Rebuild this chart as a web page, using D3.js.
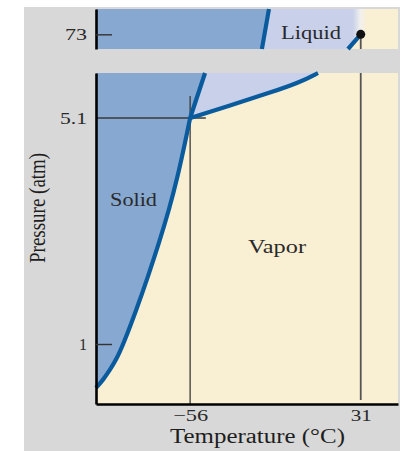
<!DOCTYPE html>
<html>
<head>
<meta charset="utf-8">
<script src="https://cdn.jsdelivr.net/npm/d3@7"></script>
<style>
  body { margin: 0; background: #fff; }
  svg { display: block; }
</style>
</head>
<body>
<figure id="phase" style="margin:0"></figure>
<script>
// CO2 phase diagram (broken pressure axis)
const tempTicks = [-56, 31];
const lowPressureTicks = [1, 5.1];
const highPressureTicks = [73];
const triplePoint = [-56, 5.1];
const criticalPoint = [31, 73];

// solid / vapor boundary (temperature, pressure)
const sublimationT = [-104, -100.4, -96.9, -93.8, -90.0, -83.4, -77.5, -71.9, -66.8, -62.4, -58.6, -56];
const sublimationP = [0.27, 0.40, 0.57, 0.73, 1.0, 1.62, 2.22, 2.83, 3.43, 4.03, 4.65, 5.1];
// solid / liquid boundary, lower and upper part of the break
const meltingLowT = [-56, -48.4];
const meltingLowP = [5.1, 5.92];
const meltingHighT = [-19.4, -15.8];
const meltingHighP = [62, 92];
// liquid / vapor boundary
const vaporLowT = [-56, -35.7, -15.3, 0, 9.2];
const vaporLowP = [5.1, 5.33, 5.56, 5.75, 5.92];
const vaporHighT = [24.5, 31];
const vaporHighP = [62, 73];

const labels = { solid: "Solid", liquid: "Liquid", vapor: "Vapor" };

const W = 405, H = 451;
const left = 96, right = 398;
const low = { top: 73, bottom: 404 };
const high = { top: 9, bottom: 49 };

const colors = {
  bg: "#d8d8d8", solid: "#87a8d0", liquid: "#c9d1ea", vapor: "#f9efd3",
  curve: "#0a5b9e", text: "#2a2a2a"
};
const serif = "'Liberation Serif', 'DejaVu Serif', serif";

const x = d3.scaleLinear().domain([-104, 50]).range([left, right]);
const yLow = d3.scaleLinear().domain([0, 1, 5.1, 5.92]).range([low.bottom, 344, 118, low.top]);
const yHigh = d3.scaleLinear().domain([62, 92]).range([high.bottom, high.top]);

const pts = (T, P) => T.map((t, i) => [t, P[i]]);
const sublimation = pts(sublimationT, sublimationP);
const meltingLow = pts(meltingLowT, meltingLowP);
const meltingHigh = pts(meltingHighT, meltingHighP);
const vaporLow = pts(vaporLowT, vaporLowP);
const vaporHigh = pts(vaporHighT, vaporHighP);

const svg = d3.select('#phase').append('svg').attr('width', W).attr('height', H);

svg.append('rect').attr('x', 24).attr('y', 7).attr('width', 376).attr('height', H - 7)
  .attr('fill', colors.bg);

const grad = svg.append('defs').append('linearGradient').attr('id', 'fade')
  .attr('gradientUnits', 'userSpaceOnUse')
  .attr('x1', x(27)).attr('x2', x(34)).attr('y1', 0).attr('y2', 0);
grad.append('stop').attr('offset', 0).attr('stop-color', colors.liquid);
grad.append('stop').attr('offset', 0.55).attr('stop-color', '#f1f0ee');
grad.append('stop').attr('offset', 1).attr('stop-color', colors.vapor);

// panel backgrounds (vapor)
svg.append('rect').attr('x', left).attr('y', low.top).attr('width', right - left)
  .attr('height', low.bottom - low.top).attr('fill', colors.vapor);
svg.append('rect').attr('x', left).attr('y', high.top).attr('width', right - left)
  .attr('height', high.bottom - high.top).attr('fill', colors.vapor);

const lineLow = d3.line().x(d => x(d[0])).y(d => yLow(d[1]));
const lineHigh = d3.line().x(d => x(d[0])).y(d => yHigh(d[1]));
const smoothLow = d3.line().x(d => x(d[0])).y(d => yLow(d[1])).curve(d3.curveBasis);

const meltTop = x(meltingLow[1][0]);

// solid region, lower panel
svg.append('path')
  .attr('d', smoothLow(sublimation) + `L${meltTop},${low.top}L${left},${low.top}L${left},${yLow(sublimation[0][1])}Z`)
  .attr('fill', colors.solid);

// liquid region, lower panel
svg.append('path')
  .attr('d', smoothLow(vaporLow) + `L${meltTop},${low.top}L${x(triplePoint[0])},${yLow(triplePoint[1])}Z`)
  .attr('fill', colors.liquid);

// upper panel regions
svg.append('path')
  .attr('d', `M${left},${high.top}L${x(meltingHigh[1][0])},${high.top}L${x(meltingHigh[0][0])},${high.bottom}L${left},${high.bottom}Z`)
  .attr('fill', colors.solid);
svg.append('path')
  .attr('d', `M${x(meltingHigh[0][0])},${high.bottom}L${x(meltingHigh[1][0])},${high.top}L${x(34)},${high.top}` +
    `L${x(34)},${yHigh(criticalPoint[1])}L${x(criticalPoint[0])},${yHigh(criticalPoint[1])}` +
    `L${x(vaporHigh[0][0])},${high.bottom}Z`)
  .attr('fill', 'url(#fade)');

// guide lines
const guide = svg.append('g').attr('stroke', '#3a3a3a').attr('stroke-width', 1.3);
guide.append('line').attr('x1', left).attr('x2', x(-48)).attr('y1', yLow(5.1)).attr('y2', yLow(5.1));
guide.append('line').attr('x1', x(-56)).attr('x2', x(-56)).attr('y1', yLow(5.5)).attr('y2', low.bottom);
guide.append('line').attr('stroke', '#555').attr('stroke-width', 1.8)
  .attr('x1', x(31)).attr('x2', x(31)).attr('y1', low.top).attr('y2', low.bottom - 4);
guide.append('line').attr('stroke', '#555').attr('stroke-width', 1.8)
  .attr('x1', x(31)).attr('x2', x(31)).attr('y1', yHigh(73)).attr('y2', high.bottom);

// phase boundaries
const curves = svg.append('g').attr('fill', 'none').attr('stroke', colors.curve)
  .attr('stroke-width', 4.2).attr('stroke-linejoin', 'round');
curves.append('path').attr('d', smoothLow(sublimation) + lineLow(meltingLow).replace('M', 'L'));
curves.append('path').attr('d', smoothLow(vaporLow));
curves.append('path').attr('d', lineHigh(meltingHigh));
curves.append('path').attr('d', lineHigh(vaporHigh));

svg.append('circle').attr('cx', x(criticalPoint[0])).attr('cy', yHigh(criticalPoint[1]))
  .attr('r', 4.5).attr('fill', '#111');

// axes (reference glyphs are wide, so each label is stretched to its measured width)
const widths = { "\u221256": 35, "31": 21, "1": 8, "5.1": 27, "73": 22 };
const axisStyle = g => {
  g.select('.domain').attr('stroke', '#000').attr('stroke-width', 2.6);
  g.selectAll('.tick line').attr('stroke', '#333').attr('stroke-width', 1.4);
  g.selectAll('.tick text').attr('font-family', serif).attr('font-size', 17).attr('fill', colors.text)
    .each(function () {
      const w = widths[this.textContent];
      if (w) d3.select(this).attr('textLength', w).attr('lengthAdjust', 'spacingAndGlyphs');
    });
};

svg.append('g').attr('transform', `translate(0,${low.bottom})`)
  .call(d3.axisBottom(x).tickValues(tempTicks).tickSize(0).tickSizeOuter(0).tickPadding(5)
    .tickFormat(d3.format('d')))
  .call(axisStyle);

svg.append('g').attr('transform', `translate(${left},0)`)
  .call(d3.axisLeft(yLow).tickValues(lowPressureTicks).tickSize(-16).tickSizeOuter(0).tickPadding(9)
    .tickFormat(d => d))
  .call(axisStyle)
  .call(g => g.selectAll('.tick').filter(d => d === 5.1).select('line').remove());

svg.append('g').attr('transform', `translate(${left},0)`)
  .call(d3.axisLeft(yHigh).tickValues(highPressureTicks).tickSize(-16).tickSizeOuter(0).tickPadding(9))
  .call(axisStyle);

// titles
svg.append('text').attr('x', 170).attr('y', 443)
  .attr('font-family', serif).attr('font-size', 20).attr('fill', '#1e1e1e')
  .attr('textLength', 175).attr('lengthAdjust', 'spacingAndGlyphs')
  .text('Temperature (°C)');
svg.append('text').attr('transform', 'translate(45,263) scale(1.2,1) rotate(-90)')
  .attr('font-family', serif).attr('font-size', 19).attr('fill', '#1e1e1e')
  .text('Pressure (atm)');

// region labels
const region = svg.append('g').attr('font-family', serif).attr('font-size', 18).attr('fill', '#2a2a2a');
const regionLabel = (tx, ty, w, s) => region.append('text').attr('x', tx).attr('y', ty)
  .attr('textLength', w).attr('lengthAdjust', 'spacingAndGlyphs').text(s);
regionLabel(110, 206, 47, labels.solid);
regionLabel(248, 253, 58, labels.vapor);
regionLabel(281, 39, 60, labels.liquid);
</script>
</body>
</html>
